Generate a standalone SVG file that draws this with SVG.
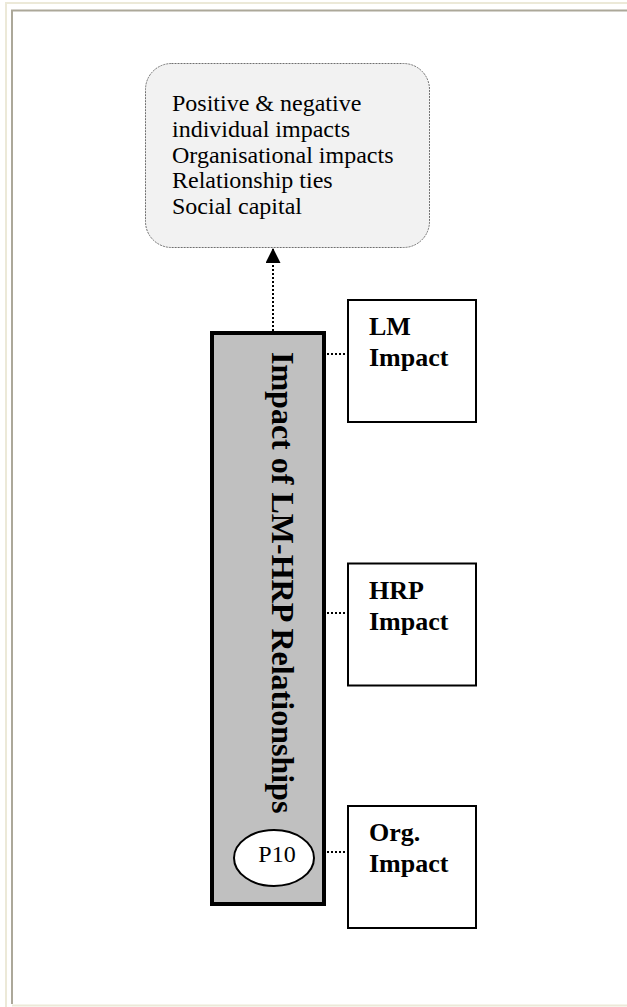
<svg xmlns="http://www.w3.org/2000/svg" width="627" height="1007" viewBox="0 0 627 1007">
  <defs>
    <marker id="arrowhead" markerWidth="15" markerHeight="15" refX="15" refY="7.5" viewBox="0 0 15 15" orient="auto" markerUnits="userSpaceOnUse">
      <path d="M0,0 L15,7.5 L0,15 Z" fill="#000"/>
    </marker>
    <style>
      .frame-outer { fill: none; stroke: #ECE9D8; stroke-width: 2; }
      .frame-inner { fill: none; stroke: #ACA899; stroke-width: 2; }
      .outcomes { fill: #F2F2F2; stroke: #707070; stroke-width: 1; stroke-dasharray: 2 1; }
      .outcome-text { font-family: "Liberation Serif", "Times New Roman", serif; font-size: 24px; fill: #000; }
      .main-box { fill: #C0C0C0; stroke: #000; stroke-width: 4; }
      .main-title { font-family: "Liberation Serif", "Times New Roman", serif; font-size: 32px; font-weight: bold; fill: #000; }
      .impact-box { fill: #fff; stroke: #000; stroke-width: 2; }
      .impact-text { font-family: "Liberation Serif", "Times New Roman", serif; font-size: 26px; font-weight: bold; fill: #000; }
      .badge { fill: #fff; stroke: #000; stroke-width: 2; }
      .badge-text { font-family: "Liberation Serif", "Times New Roman", serif; font-size: 24px; fill: #000; }
      .dotted { fill: none; stroke: #000; stroke-width: 2; stroke-dasharray: 2 2; }
    </style>
  </defs>

  <rect width="627" height="1007" fill="#fff"/>

  <!-- page frame -->
  <g id="frame">
    <path class="frame-outer" d="M6,1007 V3 H627"/>
    <path class="frame-outer" d="M12,1005.5 H627"/>
    <path class="frame-inner" d="M12,1004 V10.5 H627"/>
  </g>

  <!-- outcomes box -->
  <g id="outcomes">
    <rect class="outcomes" x="145.5" y="63.5" width="284" height="184" rx="26" ry="26"/>
    <text class="outcome-text" x="172" y="111">Positive &amp; negative</text>
    <text class="outcome-text" x="172" y="136.5">individual impacts</text>
    <text class="outcome-text" x="172" y="162.5">Organisational impacts</text>
    <text class="outcome-text" x="172" y="188">Relationship ties</text>
    <text class="outcome-text" x="172" y="214">Social capital</text>
  </g>

  <!-- central relationship column -->
  <g id="relationships">
    <rect class="main-box" x="212" y="333" width="112" height="571"/>
    <text class="main-title" transform="translate(272,352) rotate(90)">Impact of LM-HRP Relationships</text>
  </g>

  <g id="p10">
    <ellipse class="badge" cx="274" cy="858" rx="40" ry="28"/>
    <text class="badge-text" x="277" y="862" text-anchor="middle">P10</text>
  </g>

  <g id="lm-impact">
    <rect class="impact-box" x="348" y="300" width="128" height="122"/>
    <text class="impact-text" x="369" y="335">LM</text>
    <text class="impact-text" x="369" y="366">Impact</text>
  </g>

  <g id="hrp-impact">
    <rect class="impact-box" x="348" y="563.5" width="128" height="122"/>
    <text class="impact-text" x="369" y="599">HRP</text>
    <text class="impact-text" x="369" y="630">Impact</text>
  </g>

  <g id="org-impact">
    <rect class="impact-box" x="348" y="806" width="128" height="122"/>
    <text class="impact-text" x="369" y="841">Org.</text>
    <text class="impact-text" x="369" y="872">Impact</text>
  </g>

  <!-- connectors -->
  <g id="connectors">
    <line class="dotted" x1="273" y1="331" x2="273" y2="248" marker-end="url(#arrowhead)"/>
    <line class="dotted" x1="327" y1="354" x2="347" y2="354"/>
    <line class="dotted" x1="327" y1="613" x2="347" y2="613"/>
    <line class="dotted" x1="327" y1="852" x2="347" y2="852"/>
  </g>
</svg>
